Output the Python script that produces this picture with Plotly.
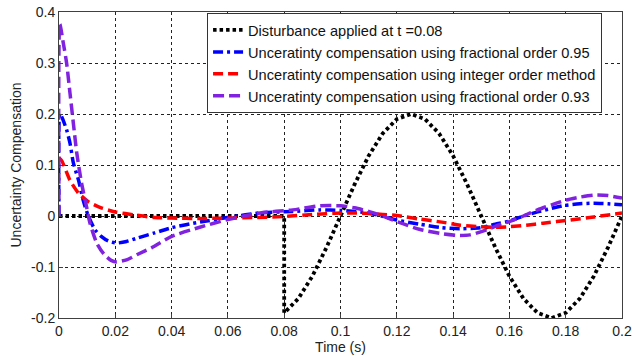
import plotly.graph_objects as go

# ---------------- data ----------------
dist_t = [0, 0.02, 0.04, 0.06, 0.08, 0.08, 0.085, 0.09, 0.095, 0.1, 0.105, 0.11, 0.115,
          0.12, 0.125, 0.13, 0.135, 0.14, 0.145, 0.15, 0.155, 0.16, 0.165, 0.17, 0.175,
          0.18, 0.185, 0.19, 0.195, 0.2]
dist_v = [0, 0, 0, 0, 0, -0.19, -0.162, -0.118, -0.062, 0, 0.062, 0.118, 0.162,
          0.19, 0.2, 0.19, 0.162, 0.118, 0.062, 0, -0.062, -0.118, -0.162, -0.19, -0.2,
          -0.19, -0.162, -0.118, -0.062, 0]

frac95_t = [0, 0.0003, 0.001, 0.0027, 0.0039, 0.0051, 0.0069, 0.0086, 0.0104, 0.0128, 0.015,
            0.0175, 0.0205, 0.024, 0.028, 0.034, 0.04, 0.05, 0.061, 0.0714, 0.083, 0.0927,
            0.1, 0.11, 0.12, 0.128, 0.136, 0.1425, 0.1496, 0.155, 0.16, 0.165, 0.17, 0.175,
            0.18, 0.185, 0.19, 0.195, 0.2]
frac95_v = [0, 0.2, 0.194, 0.169, 0.143, 0.104, 0.071, 0.031, 0.0, -0.027, -0.04,
            -0.049, -0.053, -0.05, -0.043, -0.033, -0.023, -0.012, -0.002, 0.006, 0.009, 0.012,
            0.011, 0.006, -0.008, -0.016, -0.023, -0.025, -0.023, -0.016, -0.01, 0.0, 0.008, 0.015,
            0.021, 0.024, 0.025, 0.024, 0.022]

int_t = [0, 0.001, 0.0039, 0.0069, 0.0104, 0.015, 0.02, 0.027, 0.034, 0.04, 0.05, 0.06, 0.07,
         0.08, 0.09, 0.1, 0.105, 0.11, 0.115, 0.12, 0.128, 0.136, 0.1425, 0.1496, 0.155, 0.16,
         0.166, 0.172, 0.1815, 0.19, 0.2]
int_v = [0.114, 0.108, 0.07, 0.045, 0.028, 0.016, 0.008, 0.002, -0.003, -0.004, -0.005, -0.004,
         -0.003, -0.001, 0.003, 0.006, 0.006, 0.005, 0.003, 0.001, -0.006, -0.012, -0.018, -0.021,
         -0.022, -0.021, -0.018, -0.014, -0.008, -0.002, 0.006]

frac93_t = [0, 0.0003, 0.0015, 0.0027, 0.0039, 0.0051, 0.0063, 0.008, 0.0098, 0.011, 0.0134,
            0.016, 0.0185, 0.0205, 0.024, 0.028, 0.033, 0.04, 0.05, 0.06, 0.0714, 0.083, 0.0927,
            0.1, 0.105, 0.1105, 0.115, 0.12, 0.128, 0.1364, 0.142, 0.146, 0.152, 0.156, 0.16,
            0.165, 0.17, 0.175, 0.18, 0.185, 0.19, 0.195, 0.2]
frac93_v = [0, 0.376, 0.34, 0.30, 0.241, 0.182, 0.124, 0.065, 0.018, -0.014, -0.053,
            -0.075, -0.087, -0.09, -0.086, -0.075, -0.062, -0.04, -0.022, -0.007, 0.006, 0.012, 0.02,
            0.02, 0.016, 0.008, 0.0, -0.011, -0.026, -0.035, -0.038, -0.037, -0.027, -0.018, -0.011,
            0.0, 0.012, 0.022, 0.031, 0.037, 0.041, 0.040, 0.035]

names = ["Disturbance applied at t =0.08",
         "Unceratinty compensation using fractional order 0.95",
         "Unceratinty compensation using integer order method",
         "Unceratinty compensation using fractional order 0.93"]

x_ticks = [0, 0.02, 0.04, 0.06, 0.08, 0.1, 0.12, 0.14, 0.16, 0.18, 0.2]
x_tick_text = ["0", "0.02", "0.04", "0.06", "0.08", "0.1", "0.12", "0.14", "0.16", "0.18", "0.2"]
y_ticks = [-0.2, -0.1, 0, 0.1, 0.2, 0.3, 0.4]
y_tick_text = ["-0.2", "-0.1", "0", "0.1", "0.2", "0.3", "0.4"]

FONT = "Liberation Sans, Arial, sans-serif"

fig = go.Figure()
fig.add_trace(go.Scatter(x=dist_t, y=dist_v, mode="lines", name=names[0],
                         line=dict(color="#000000", width=3.8, dash="3.5px,3px")))
fig.add_trace(go.Scatter(x=frac95_t, y=frac95_v, mode="lines", name=names[1],
                         line=dict(color="#0000FF", width=3.5, dash="10px,4px,3px,4px",
                                   shape="spline", smoothing=0.6)))
fig.add_trace(go.Scatter(x=int_t, y=int_v, mode="lines", name=names[2],
                         line=dict(color="#FF0000", width=3.5, dash="10px,5px",
                                   shape="spline", smoothing=0.6)))
fig.add_trace(go.Scatter(x=frac93_t, y=frac93_v, mode="lines", name=names[3],
                         line=dict(color="#8022E0", width=3.5, dash="11px,5px",
                                   shape="spline", smoothing=0.6)))

axis_common = dict(
    showline=True, linecolor="#404040", linewidth=1, mirror=True,
    showgrid=True, gridcolor="#222222", gridwidth=1, griddash="3px,3px",
    zeroline=False, ticks="inside", ticklen=4, tickcolor="#404040",
    tickfont=dict(family=FONT, size=14, color="#222222"),
    automargin=False,
)

fig.update_layout(
    width=632, height=356,
    margin=dict(l=59, r=10, t=12, b=38),
    paper_bgcolor="white", plot_bgcolor="white",
    font=dict(family=FONT, color="#222222"),
    xaxis=dict(range=[0, 0.2], tickvals=x_ticks, ticktext=x_tick_text,
               title=dict(text="Time (s)", font=dict(family=FONT, size=14), standoff=0),
               **axis_common),
    yaxis=dict(range=[-0.2, 0.4], tickvals=y_ticks, ticktext=y_tick_text,
               title=dict(text="Uncertainty Compensation", font=dict(family=FONT, size=14),
                          standoff=6),
               **axis_common),
    legend=dict(x=0.263, y=0.997, xanchor="left", yanchor="top",
                bgcolor="white", bordercolor="#333333", borderwidth=1,
                font=dict(family=FONT, size=14.6, color="#111111"),
                tracegroupgap=0, itemwidth=30),
    showlegend=True,
)

fig.write_html("out.html")
